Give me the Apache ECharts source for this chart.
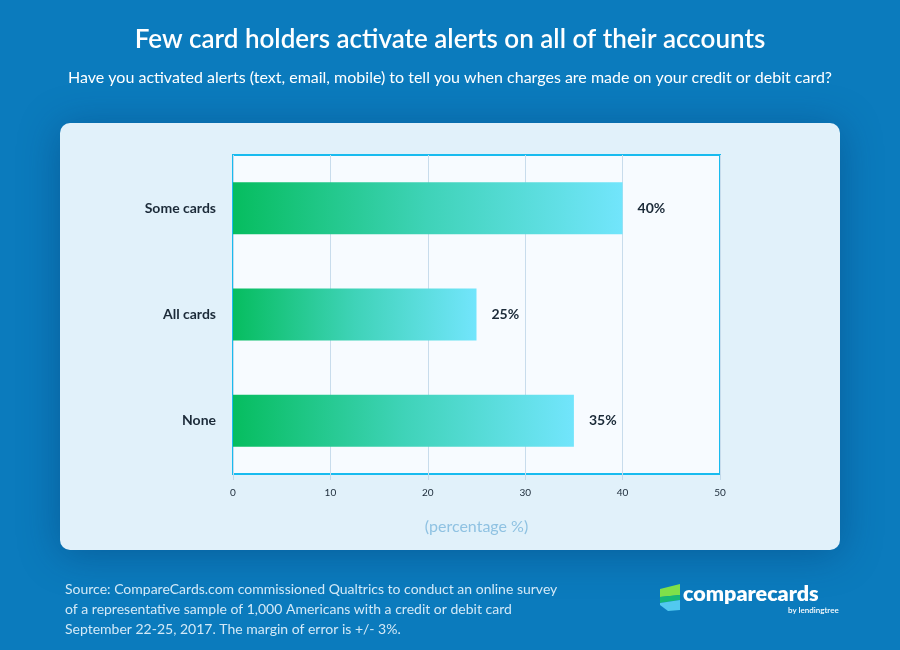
<!DOCTYPE html>
<html>
<head>
<meta charset="utf-8">
<script src="https://cdn.jsdelivr.net/npm/echarts@6/dist/echarts.min.js"></script>
<style>
html,body{margin:0;padding:0;background:#0b7bbd;}
#chart{width:900px;height:650px;}
</style>
</head>
<body>
<div id="chart"></div>
<script>
const categories = ['Some cards', 'All cards', 'None'];
const values = [40, 25, 35];
const xTicks = [0, 10, 20, 30, 40, 50];
const titleText = 'Few card holders activate alerts on all of their accounts';
const subtitleText = 'Have you activated alerts (text, email, mobile) to tell you when charges are made on your credit or debit card?';
const sourceLines = [
  'Source: CompareCards.com commissioned Qualtrics to conduct an online survey',
  'of a representative sample of 1,000 Americans with a credit or debit card',
  'September 22-25, 2017. The margin of error is +/- 3%.'
];
const FONT = 'Lato, "Noto Sans", sans-serif';

const chart = echarts.init(document.getElementById('chart'));
chart.setOption({
  backgroundColor: '#0b7bbd',
  animation: false,
  graphic: [
    { type: 'rect', z: -10, shape: { x: 60, y: 123, width: 780, height: 427, r: 10 },
      style: { fill: '#e1f1fa', shadowBlur: 40, shadowColor: 'rgba(0,40,90,0.35)', shadowOffsetY: 4 } },
    { type: 'text', left: 'center', top: 27, style: { text: titleText, fill: '#ffffff', font: '600 26px ' + FONT } },
    { type: 'text', left: 'center', top: 70, style: { text: subtitleText, fill: '#ffffff', font: '16px ' + FONT } },
    { type: 'text', left: 65, top: 579, style: { text: sourceLines.join('\n'), fill: '#d3e9f7', font: '14px ' + FONT, lineHeight: 20 } },
    { type: 'polygon', shape: { points: [[660,589],[680,584],[680,595],[660,597]] }, style: { fill: '#7fe04a' } },
    { type: 'polygon', shape: { points: [[660,597],[680,595],[680,600],[660,603]] }, style: { fill: '#15b876' } },
    { type: 'polygon', shape: { points: [[660,603],[680,600],[680,610],[668,611],[660,605]] }, style: { fill: '#52c9f0' } },
    { type: 'text', left: 683, top: 583, style: { text: 'comparecards', fill: '#ffffff', font: '800 21.5px ' + FONT } },
    { type: 'text', left: 788, top: 606, style: { text: 'by lendingtree', fill: '#ffffff', font: '600 8px ' + FONT } }
  ],
  grid: {
    left: 233, top: 155, width: 487, height: 319,
    show: true, backgroundColor: '#f7fbff', borderColor: '#18bbef', borderWidth: 2
  },
  xAxis: {
    type: 'value', min: 0, max: 50, interval: 10,
    name: '(percentage %)', nameLocation: 'middle', nameGap: 45,
    nameTextStyle: { color: '#8fc2e2', fontSize: 16, fontFamily: FONT },
    axisLine: { show: false },
    axisTick: { show: true, length: 6, lineStyle: { color: '#c3d9ea' } },
    axisLabel: { color: '#1b2a38', fontSize: 10, margin: 14, fontFamily: FONT,
      formatter: v => xTicks.indexOf(v) >= 0 ? String(v) : '' },
    splitLine: { show: true, lineStyle: { color: '#c8dcec', width: 1 } }
  },
  yAxis: {
    type: 'category', data: categories, inverse: true,
    axisLine: { show: false }, axisTick: { show: false },
    axisLabel: { color: '#1b2a38', fontSize: 14, fontWeight: 'bold', margin: 17, fontFamily: FONT }
  },
  series: [{
    type: 'bar', data: values, barWidth: 52,
    itemStyle: {
      color: new echarts.graphic.LinearGradient(0, 0, 1, 0, [
        { offset: 0, color: '#06bd5f' },
        { offset: 0.5, color: '#3fd3b8' },
        { offset: 1, color: '#72e5fc' }
      ])
    },
    label: { show: true, position: 'right', distance: 15, formatter: '{c}%',
      color: '#1b2a38', fontSize: 14, fontWeight: 'bold', fontFamily: FONT }
  }]
});
</script>
</body>
</html>
